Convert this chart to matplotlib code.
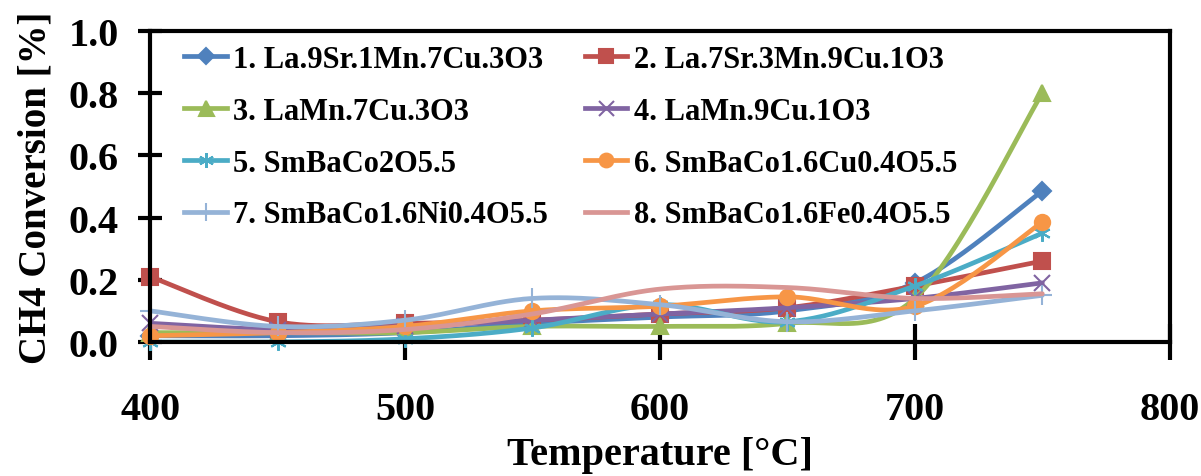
import matplotlib.pyplot as plt
import numpy as np

temps = [400, 450, 500, 550, 600, 650, 700, 750]

labels = ['1. La.9Sr.1Mn.7Cu.3O3', '2. La.7Sr.3Mn.9Cu.1O3',
          '3. LaMn.7Cu.3O3', '4. LaMn.9Cu.1O3',
          '5. SmBaCo2O5.5', '6. SmBaCo1.6Cu0.4O5.5',
          '7. SmBaCo1.6Ni0.4O5.5', '8. SmBaCo1.6Fe0.4O5.5']

s1 = [0.02, 0.02, 0.03, 0.06, 0.08, 0.10, 0.19, 0.485]
s2 = [0.21, 0.065, 0.06, 0.07, 0.09, 0.11, 0.18, 0.26]
s3 = [0.03, 0.03, 0.03, 0.05, 0.05, 0.06, 0.14, 0.80]
s4 = [0.06, 0.04, 0.05, 0.07, 0.09, 0.11, 0.14, 0.19]
s5 = [0.00, 0.00, 0.01, 0.045, 0.12, 0.065, 0.18, 0.35]
s6 = [0.02, 0.03, 0.05, 0.10, 0.115, 0.145, 0.115, 0.385]
s7 = [0.10, 0.05, 0.07, 0.14, 0.12, 0.065, 0.10, 0.15]
s8 = [0.05, 0.03, 0.04, 0.09, 0.17, 0.175, 0.14, 0.155]

series = [s1, s2, s3, s4, s5, s6, s7, s8]
colors = ['#4F81BD', '#C0504D', '#9BBB59', '#8064A2',
          '#4BACC6', '#F79646', '#95B3D7', '#D99694']
markers = ['D', 's', '^', 'x', (6, 2, 0), 'o', '+', 'None']
msizes = [9, 11, 12, 12, 12, 11, 14, 0]


def smooth(x, y, n=30):
    # excel-style smoothed line (bezier through the points)
    x = np.asarray(x, float)
    y = np.asarray(y, float)
    px = np.concatenate([[x[0]], x, [x[-1]]])
    py = np.concatenate([[y[0]], y, [y[-1]]])
    t = np.linspace(0, 1, n)
    xs, ys = [], []
    for i in range(1, len(px) - 2):
        p0 = np.array([px[i], py[i]])
        p3 = np.array([px[i + 1], py[i + 1]])
        c1 = p0 + (p3 - np.array([px[i - 1], py[i - 1]])) / 6
        c2 = p3 - (np.array([px[i + 2], py[i + 2]]) - p0) / 6
        b = ((1 - t) ** 3)[:, None] * p0 + (3 * (1 - t) ** 2 * t)[:, None] * c1 \
            + (3 * (1 - t) * t ** 2)[:, None] * c2 + (t ** 3)[:, None] * p3
        xs.append(b[:, 0])
        ys.append(b[:, 1])
    return np.concatenate(xs), np.concatenate(ys)


plt.rcParams['font.family'] = 'Liberation Serif'
plt.rcParams['font.weight'] = 'bold'

fig = plt.figure(figsize=(12.01, 4.77), dpi=100)
ax = fig.add_axes([0.125, 0.281, 0.849, 0.652])

handles = []
for y, c, m, ms, lab in zip(series, colors, markers, msizes, labels):
    xs, ys = smooth(temps, y)
    ax.plot(xs, ys, color=c, lw=3.4, solid_capstyle='round')
    ax.plot(temps, y, color=c, lw=0, marker=m, markersize=ms,
            markeredgewidth=1.5, clip_on=False)
    h, = ax.plot([], [], color=c, lw=3.4, marker=m, markersize=ms * 0.9,
                 markeredgewidth=1.5, label=lab)
    handles.append(h)

ax.set_xlim(400, 800)
ax.set_ylim(0, 1.0)
ax.set_xticks([400, 500, 600, 700, 800])
ax.set_yticks([0, 0.2, 0.4, 0.6, 0.8, 1.0])
ax.set_yticklabels(['0.0', '0.2', '0.4', '0.6', '0.8', '1.0'])
ax.tick_params(axis='y', direction='inout', length=17, width=3, labelsize=29, pad=14)
ax.tick_params(axis='x', direction='inout', length=26, width=3, labelsize=29, pad=22)
for sp in ax.spines.values():
    sp.set_linewidth(3)
ax.set_xlabel('Temperature [°C]', fontsize=29, fontweight='bold', labelpad=6)
ax.set_ylabel('CH4 Conversion [%]', fontsize=28, fontweight='bold', labelpad=10)

# legend fills row by row in the reference
order = [0, 2, 4, 6, 1, 3, 5, 7]
ax.legend([handles[i] for i in order], [labels[i] for i in order],
          loc='upper left', bbox_to_anchor=(0.02, 1.0), ncol=2, frameon=False,
          prop={'size': 22, 'weight': 'bold'}, handlelength=1.4,
          handletextpad=0.2, columnspacing=1.2, labelspacing=0.75,
          borderaxespad=0.05)

fig.savefig('out.png', dpi=100)
